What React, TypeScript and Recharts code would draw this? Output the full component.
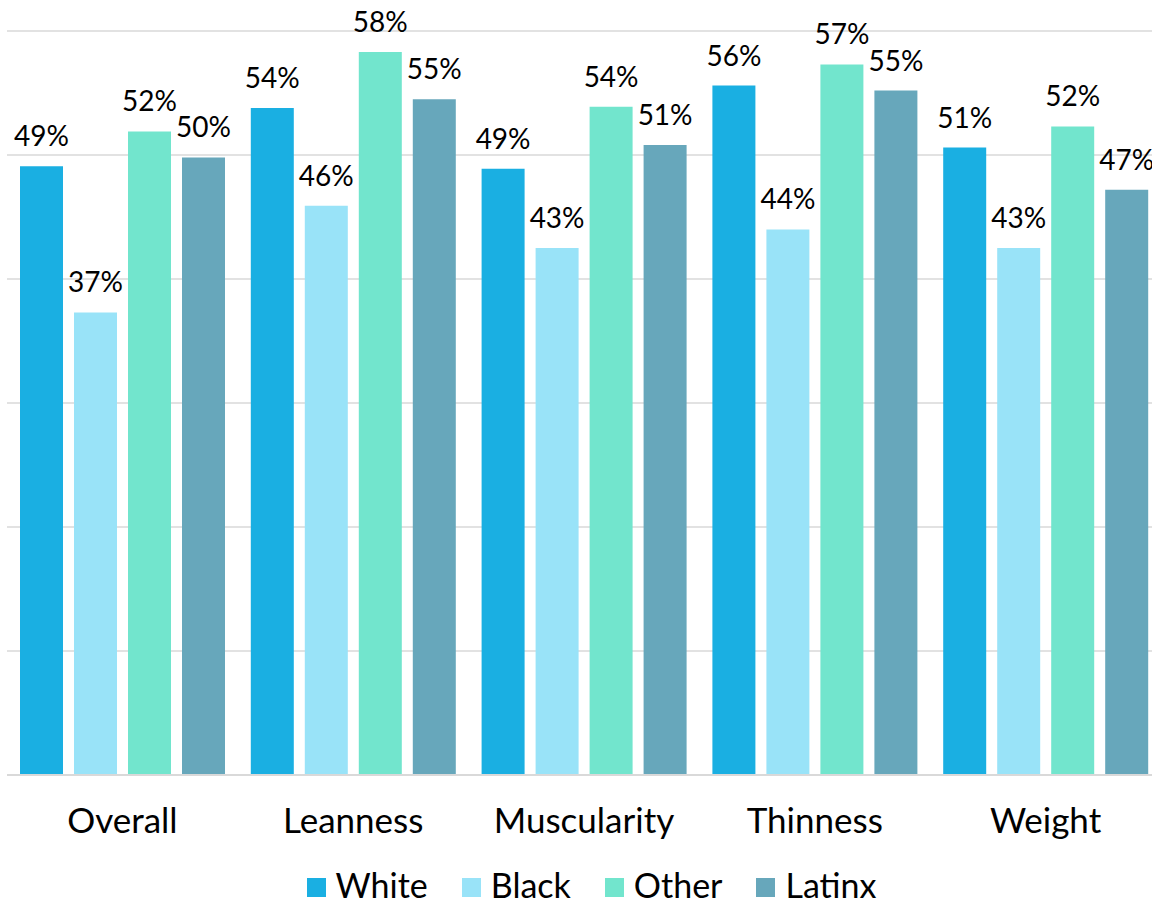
import { BarChart, Bar, XAxis, YAxis, CartesianGrid, Legend, LabelList } from "recharts";

const categories = ["Overall", "Leanness", "Muscularity", "Thinness", "Weight"];
const white = [49.1, 53.8, 48.9, 55.6, 50.6];
const black = [37.3, 45.9, 42.5, 44.0, 42.5];
const other = [51.9, 58.3, 53.9, 57.3, 52.3];
const latinx = [49.8, 54.5, 50.8, 55.2, 47.2];
const yTicks = [0, 10, 20, 30, 40, 50, 60];

const series = [
  { key: "White", values: white, color: "#1AAFE2" },
  { key: "Black", values: black, color: "#99E3F8" },
  { key: "Other", values: other, color: "#72E5CD" },
  { key: "Latinx", values: latinx, color: "#67A7BB" },
];

const data = categories.map((name, i) => {
  const row: Record<string, string | number> = { name };
  series.forEach((s) => (row[s.key] = s.values[i]));
  return row;
});

const FONT = "Lato, 'Open Sans', sans-serif";

function LegendContent() {
  return (
    <div
      style={{
        height: 80,
        boxSizing: "border-box",
        paddingTop: 46,
        paddingLeft: 29,
        display: "flex",
        alignItems: "center",
        justifyContent: "center",
        gap: 34,
        fontFamily: FONT,
        fontSize: 34,
        lineHeight: "34px",
        color: "#000",
      }}
    >
      {series.map((s) => (
        <div key={s.key} style={{ display: "flex", alignItems: "center" }}>
          <span style={{ width: 19, height: 19, background: s.color, marginRight: 10, marginTop: 4 }} />
          <span>{s.key}</span>
        </div>
      ))}
    </div>
  );
}

export default function App() {
  return (
    <div style={{ position: "absolute", left: 0, top: 0, width: 1152, height: 902, overflow: "hidden", background: "#fff" }}>
      <BarChart
        width={1170}
        height={902}
        data={data}
        margin={{ top: 31, right: 9, left: 7, bottom: 0 }}
        barSize={43}
        barGap={11}
        style={{ fontFamily: FONT }}
      >
        <CartesianGrid vertical={false} stroke="#D9D9D9" strokeWidth={1.5} />
        <XAxis
          dataKey="name"
          height={47}
          tickSize={0}
          tickMargin={33}
          axisLine={{ stroke: "#D9D9D9", strokeWidth: 2 }}
          tick={{ fontSize: 35, fill: "#000" }}
        />
        <YAxis hide domain={[0, 60]} ticks={yTicks} />
        <Legend
          verticalAlign="bottom"
          content={<LegendContent />}
          wrapperStyle={{ height: 80, width: 1140, left: 7 }}
        />
        {series.map((s) => (
          <Bar key={s.key} dataKey={s.key} fill={s.color} isAnimationActive={false}>
            <LabelList
              dataKey={s.key}
              position="top"
              offset={20}
              formatter={(v: number) => `${Math.round(v)}%`}
              style={{ fontSize: 28, fill: "#000", fontFamily: FONT }}
            />
          </Bar>
        ))}
      </BarChart>
    </div>
  );
}
